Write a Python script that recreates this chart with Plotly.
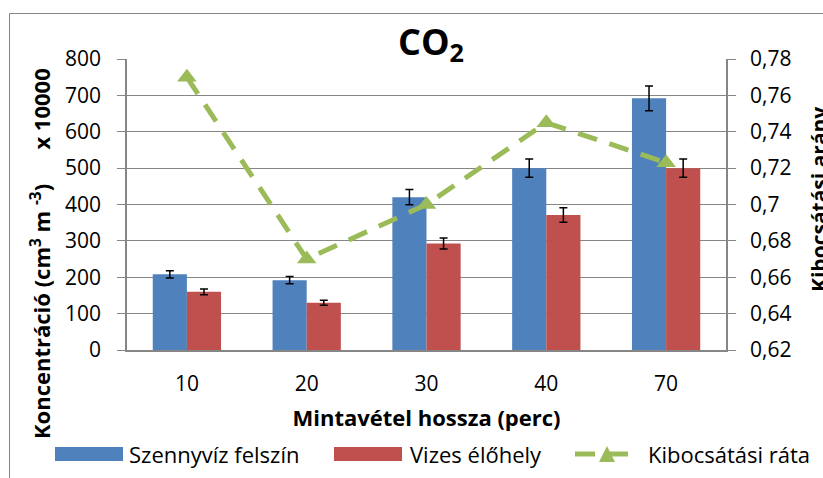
import plotly.graph_objects as go

categories = ["10", "20", "30", "40", "70"]
szennyviz = [208, 192, 420, 500, 692]
szennyviz_err = [10, 10, 21, 25, 34]
vizes = [160, 130, 293, 371, 500]
vizes_err = [8, 7, 15, 20, 25]
rata = [0.770, 0.670, 0.700, 0.745, 0.723]

left_ticks = [0, 100, 200, 300, 400, 500, 600, 700, 800]
right_tickvals = [0.62, 0.64, 0.66, 0.68, 0.70, 0.72, 0.74, 0.76, 0.78]
right_ticktext = ["0,62", "0,64", "0,66", "0,68", "0,7", "0,72", "0,74", "0,76", "0,78"]

series_names = ["Szennyvíz felszín", "Vizes élőhely", "Kibocsátási ráta"]
colors = ["#4F81BD", "#C0504D", "#9BBB59"]

FONT = "Open Sans, Calibri, Arial, sans-serif"
GRID = "#868686"

# plot-area geometry (pixels) used to convert legend positions into paper coords
L, R, T, B = 127, 97, 59, 128
W, H = 823, 478
PW, PH = W - L - R, H - T - B


def px(x):
    return (x - L) / PW


def py(y):
    return (H - B - y) / PH


fig = go.Figure()
fig.add_trace(go.Bar(
    x=categories, y=szennyviz, name=series_names[0],
    marker=dict(color=colors[0], line=dict(width=0)),
    error_y=dict(type="data", array=szennyviz_err, color="black", thickness=1.5, width=4),
))
fig.add_trace(go.Bar(
    x=categories, y=vizes, name=series_names[1],
    marker=dict(color=colors[1], line=dict(width=0)),
    error_y=dict(type="data", array=vizes_err, color="black", thickness=1.5, width=4),
))
fig.add_trace(go.Scatter(
    x=categories, y=rata, name=series_names[2], yaxis="y2",
    mode="lines+markers",
    line=dict(color=colors[2], width=5, dash="20px,13px"),
    marker=dict(symbol="triangle-up", size=17, color=colors[2]),
))

fig.update_layout(
    width=W, height=H,
    margin=dict(l=L, r=R, t=T, b=B, autoexpand=False),
    paper_bgcolor="white", plot_bgcolor="white",
    font=dict(family=FONT, size=21, color="black"),
    barmode="group", bargap=0.43, bargroupgap=0,
    showlegend=False,
    xaxis=dict(
        type="category", showgrid=False, showline=True, linecolor=GRID, linewidth=1.5,
        ticks="outside", ticklen=14, tickcolor="rgba(0,0,0,0)",
        tickfont=dict(size=21), automargin=False,
        title=dict(text="<b>Mintavétel hossza (perc)</b>", font=dict(size=22), standoff=15),
    ),
    yaxis=dict(
        range=[0, 800], tickvals=left_ticks, showgrid=True, gridcolor=GRID, gridwidth=1,
        showline=True, linecolor=GRID, linewidth=1.5, ticks="outside", ticklen=8, tickcolor=GRID,
        tickfont=dict(size=21), zeroline=False, automargin=False, ticklabelstandoff=12,
    ),
    yaxis2=dict(
        range=[0.62, 0.78], tickvals=right_tickvals, ticktext=right_ticktext,
        overlaying="y", side="right", showgrid=False,
        showline=True, linecolor=GRID, linewidth=1.5, ticks="outside", ticklen=8, tickcolor=GRID,
        tickfont=dict(size=21), zeroline=False, automargin=False, ticklabelstandoff=10,
    ),
    title=dict(text="<b>CO<sub>2</sub></b>", xref="paper", x=px(431), xanchor="center",
               y=1 - 42 / H, yanchor="middle", font=dict(size=36)),
)

# axis titles
fig.add_annotation(
    text="<b>Koncentráció (cm<sup>3</sup> m <sup>-3</sup>)      x 10000</b>",
    xref="paper", yref="paper", x=px(40), y=py(254), xanchor="center", yanchor="middle",
    textangle=-90, showarrow=False, font=dict(size=22),
)
fig.add_annotation(
    text="<b>Kibocsátási arány</b>",
    xref="paper", yref="paper", x=px(819), y=py(200), xanchor="center", yanchor="middle",
    textangle=-90, showarrow=False, font=dict(size=21),
)

# chart border (partly outside the picture, as in the reference)
fig.add_shape(type="rect", xref="paper", yref="paper",
              x0=px(9.5), y0=py(485), x1=px(830), y1=py(13.5),
              line=dict(color=GRID, width=1), fillcolor="rgba(0,0,0,0)", layer="below")

# custom legend
ly = 454
fig.add_shape(type="rect", xref="paper", yref="paper", x0=px(55), x1=px(123),
              y0=py(461), y1=py(447), line=dict(width=0), fillcolor=colors[0])
fig.add_shape(type="rect", xref="paper", yref="paper", x0=px(334), x1=px(402),
              y0=py(461), y1=py(447), line=dict(width=0), fillcolor=colors[1])
fig.add_shape(type="line", xref="paper", yref="paper", x0=px(575), x1=px(633),
              y0=py(ly), y1=py(ly), line=dict(color=colors[2], width=5, dash="20px,13px"))
fig.add_shape(type="path", xref="paper", yref="paper", xsizemode="pixel", ysizemode="pixel",
              xanchor=px(607), yanchor=py(ly), path="M -8,-8 L 8,-8 L 0,8 Z",
              line=dict(width=0), fillcolor=colors[2])
for x0, name in zip([129, 410, 648], series_names):
    fig.add_annotation(text=name, xref="paper", yref="paper", x=px(x0), y=py(ly),
                       xanchor="left", yanchor="middle", showarrow=False,
                       font=dict(size=22), xshift=-2)

fig.write_html("out.html", config={"displayModeBar": False},
               post_script="document.body.style.margin='0';")
